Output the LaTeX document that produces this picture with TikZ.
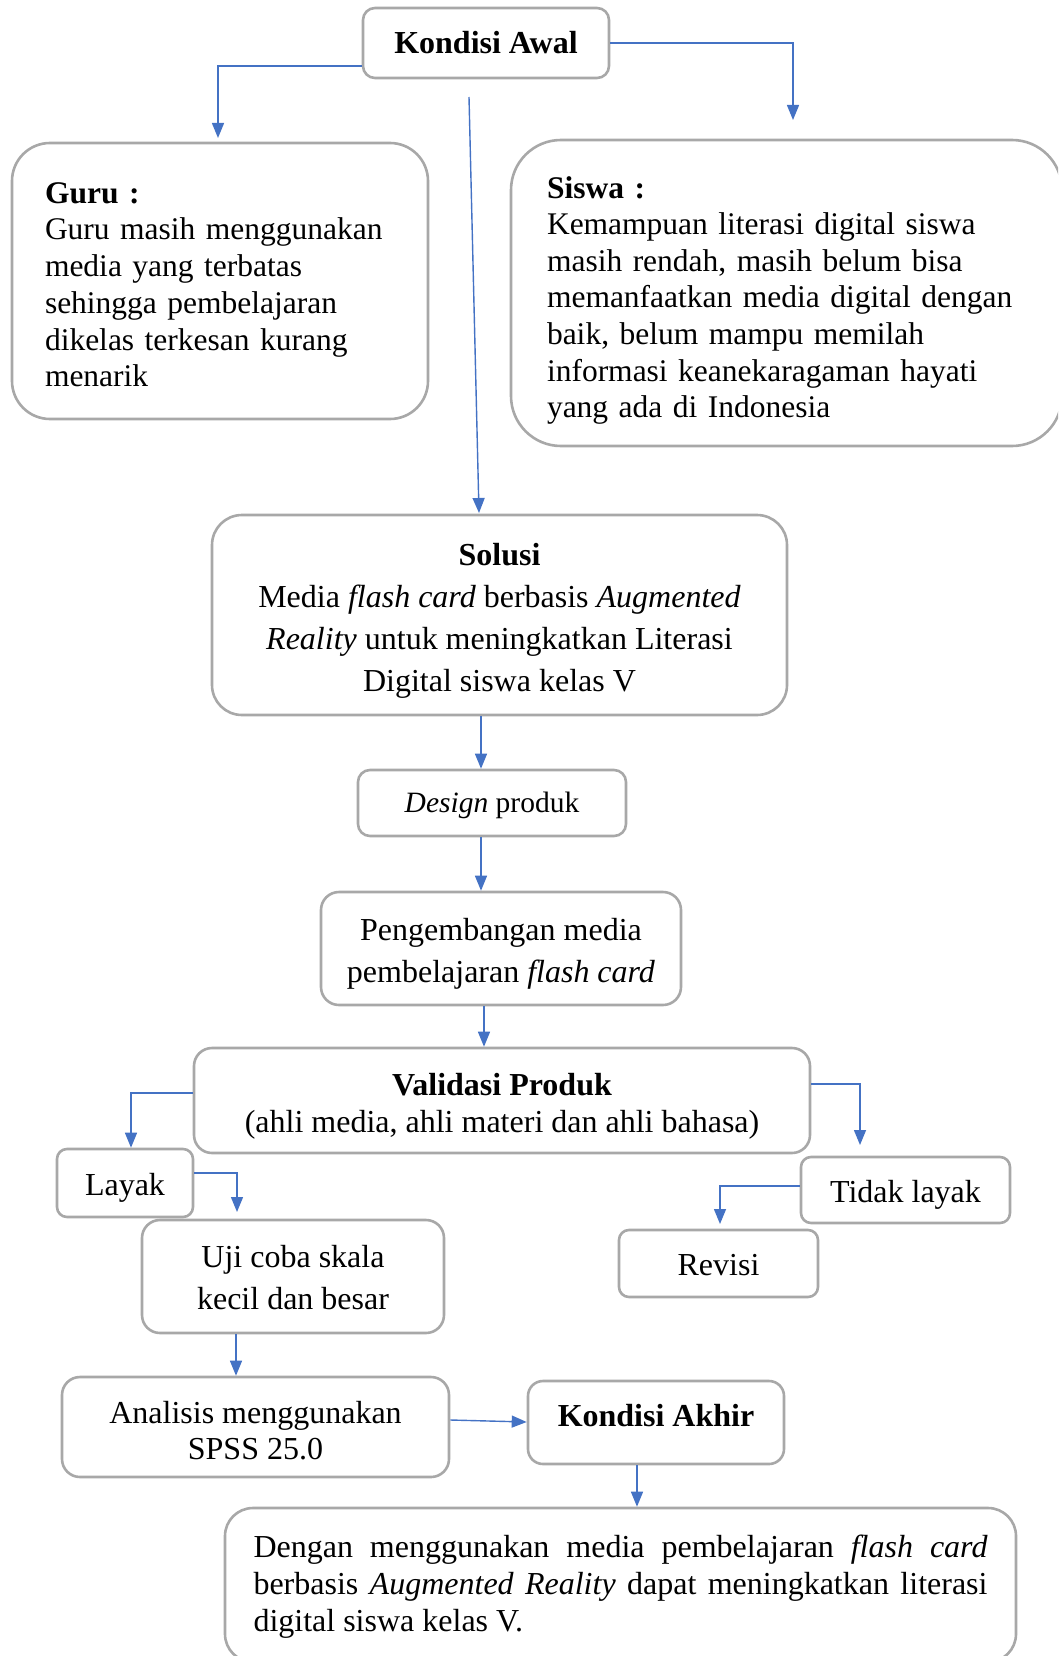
\documentclass[tikz,border=0pt]{standalone}
\usepackage{fontspec}
\setmainfont{Liberation Serif}
\usetikzlibrary{arrows.meta}
\definecolor{boxgray}{RGB}{168,168,168}
\definecolor{arrowblue}{RGB}{68,114,196}
\hyphenpenalty=10000
\exhyphenpenalty=10000
\begin{document}
\begin{tikzpicture}[x=1pt,y=-1pt,
  box/.style={draw=boxgray, line width=2.6pt, rounded corners=#1, inner sep=0pt},
  box/.default=12pt,
  txt/.style={align=center, inner sep=0pt, font=\fontsize{32}{37}\selectfont},
  arr/.style={draw=arrowblue, line width=1.4pt, -{Triangle[width=12pt,length=15pt]}}]
\useasboundingbox (0,0) rectangle (1058,1656);
\clip (0,0) rectangle (1058,1656);

% boxes
\node[box=12pt, minimum width=246pt, minimum height=70pt] (awal) at (486,43) {};
\node[txt] (awalt) at (awal.center) {\textbf{Kondisi Awal}};

\node[box=38pt, minimum width=416pt, minimum height=276pt] (guru) at (220,281) {};
\node[txt, align=left, text width=350pt, font=\fontsize{31.5}{36.7}\selectfont] (gurut) at ([yshift=-3.7pt]guru.center)
 {\textbf{Guru :}\\ Guru masih menggunakan\\ media yang terbatas\\ sehingga pembelajaran\\ dikelas terkesan kurang\\ menarik};

\node[box=50pt, minimum width=551pt, minimum height=306pt] (siswa) at (786.5,293) {};
\node[txt, align=left, text width=479pt, font=\fontsize{31.5}{36.6}\selectfont] (siswat) at ([yshift=-7.4pt]siswa.center)
 {\textbf{Siswa :}\\ Kemampuan literasi digital siswa\\ masih rendah, masih belum bisa\\ memanfaatkan media digital dengan\\ baik, belum mampu memilah\\ informasi keanekaragaman hayati\\ yang ada di Indonesia};

\node[box=30pt, minimum width=575pt, minimum height=200pt] (solusi) at (499.5,615) {};
\node[txt, font=\fontsize{32}{42}\selectfont] (solusit) at ([yshift=-6pt]solusi.center)
 {\textbf{Solusi}\\ Media \textit{flash card} berbasis \textit{Augmented}\\ \textit{Reality} untuk meningkatkan Literasi\\ Digital siswa kelas V};

\node[box=12pt, minimum width=268pt, minimum height=66pt] (design) at (492,803) {};
\node[txt, font=\fontsize{29.5}{34}\selectfont] (designt) at ([yshift=-2pt]design.center) {\textit{Design} produk};

\node[box=18pt, minimum width=360pt, minimum height=113pt] (peng) at (501,948.5) {};
\node[txt, font=\fontsize{32}{42}\selectfont] (pengt) at ([yshift=-5pt]peng.center)
 {Pengembangan media\\ pembelajaran \textit{flash card}};

\node[box=18pt, minimum width=616pt, minimum height=105pt] (valid) at (502,1100.5) {};
\node[txt] (validt) at ([yshift=-6pt]valid.center)
 {\textbf{Validasi Produk}\\ (ahli media, ahli materi dan ahli bahasa)};

\node[box=10pt, minimum width=136pt, minimum height=68pt] (layak) at (125,1183) {};
\node[txt] (layakt) at ([yshift=-5pt]layak.center) {Layak};

\node[box=18pt, minimum width=302pt, minimum height=113pt] (uji) at (293,1276.5) {};
\node[txt, font=\fontsize{32}{42}\selectfont] (ujit) at ([yshift=-1pt]uji.center)
 {Uji coba skala\\ kecil dan besar};

\node[box=10pt, minimum width=209pt, minimum height=66pt] (tidak) at (905.5,1190) {};
\node[txt] (tidakt) at ([yshift=-5pt]tidak.center) {Tidak layak};

\node[box=10pt, minimum width=199pt, minimum height=67pt] (revisi) at (718.5,1263.5) {};
\node[txt] (revisit) at ([yshift=-2pt]revisi.center) {Revisi};

\node[box=18pt, minimum width=387pt, minimum height=100pt] (analisis) at (255.5,1427) {};
\node[txt, font=\fontsize{32}{36}\selectfont] (analisist) at ([yshift=-4pt]analisis.center)
 {Analisis menggunakan\\ SPSS 25.0};

\node[box=15pt, minimum width=256pt, minimum height=83pt] (akhir) at (656,1422.5) {};
\node[txt] (akhirt) at ([yshift=7pt]akhir.center) {\textbf{Kondisi Akhir}};

\node[box=28pt, minimum width=791pt, minimum height=154pt] (final) at (620.5,1585) {};
\node[txt, align=justify, text width=734pt] (finalt) at ([yshift=-2pt]final.center)
 {Dengan menggunakan media pembelajaran \textit{flash card} berbasis \textit{Augmented Reality} dapat meningkatkan literasi digital siswa kelas V.};

% free coordinates
\coordinate (g1) at (218,138);
\coordinate (s1) at (793,120);
\coordinate (m1) at (469,97);
\coordinate (m2) at (479,513);
\coordinate (t1) at (860,1145);
\coordinate (l1) at (237,1212);
\coordinate (r1) at (720,1224);

% connectors
\draw[arr] (awal.west |- 0,66) -| (g1);
\draw[arr] (awal.east) -| (s1);
\draw[arr] (m1) -- (m2);
\draw[arr] (solusi.south -| 481,0) -- (design.north -| 481,0);
\draw[arr] (design.south -| 481,0) -- (peng.north -| 481,0);
\draw[arr] (peng.south -| 484,0) -- (valid.north -| 484,0);
\draw[arr] (valid.west |- 0,1093) -| (layak.north -| 131,0);
\draw[arr] (valid.east |- 0,1084) -| (t1);
\draw[arr] (layak.east |- 0,1173) -| (l1);
\draw[arr] (tidak.west |- 0,1186) -| (r1);
\draw[arr] (uji.south -| 236,0) -- (analisis.north -| 236,0);
\draw[arr] (analisis.east |- 0,1420) -- (akhir.west |- 0,1422);
\draw[arr] (akhir.south -| 637,0) -- (final.north -| 637,0);
\end{tikzpicture}
\end{document}
